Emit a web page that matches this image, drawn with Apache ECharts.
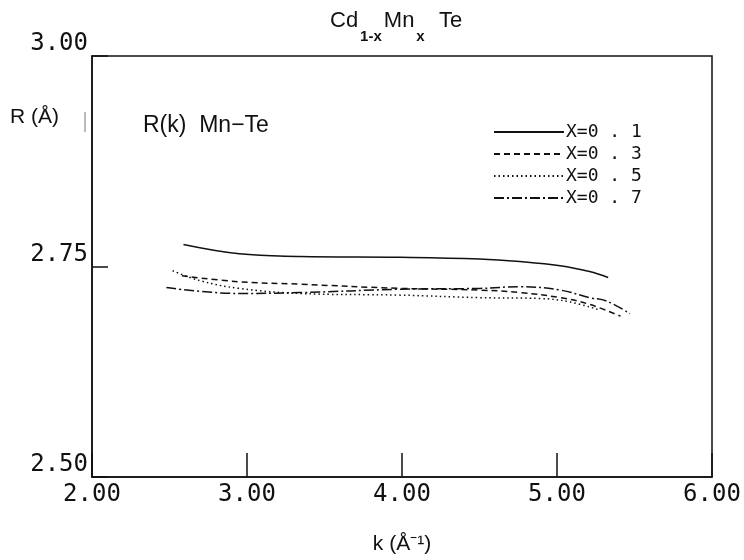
<!DOCTYPE html>
<html>
<head>
<meta charset="utf-8">
<script src="https://cdn.jsdelivr.net/npm/echarts@6/dist/echarts.min.js"></script>
<style>
  html, body { margin: 0; padding: 0; background: #fff; }
  #chart { width: 744px; height: 560px; }
</style>
</head>
<body>
<div id="chart"></div>
<script>
// k (1/A) and R (A)
var k01 = [2.59, 2.95, 3.34, 3.99, 4.50, 4.76, 5.02, 5.21, 5.33];
var r01 = [2.776, 2.765, 2.762, 2.761, 2.759, 2.756, 2.751, 2.744, 2.737];

var k03 = [2.58, 2.94, 3.34, 3.99, 4.50, 4.76, 5.02, 5.21, 5.41];
var r03 = [2.739, 2.732, 2.729, 2.724, 2.722, 2.719, 2.713, 2.705, 2.691];

var k05 = [2.52, 2.70, 2.95, 3.34, 3.99, 4.50, 4.89, 5.08, 5.28];
var r05 = [2.745, 2.733, 2.724, 2.718, 2.716, 2.713, 2.712, 2.708, 2.698];

var k07 = [2.48, 2.94, 3.34, 3.99, 4.50, 4.76, 5.02, 5.21, 5.32, 5.47];
var r07 = [2.725, 2.718, 2.719, 2.723, 2.724, 2.726, 2.722, 2.713, 2.709, 2.694];

var seriesNames = ['X=0.1', 'X=0.3', 'X=0.5', 'X=0.7'];
var xTicks = [2, 3, 4, 5, 6];
var yTicks = [2.5, 2.75, 3];

function pairs(ks, rs) {
    return ks.map(function (k, i) { return [k, rs[i]]; });
}

var monoFont = "'DejaVu Sans Mono', 'Liberation Mono', monospace";
var textFont = "'Liberation Sans', Arial, sans-serif";

var dashTypes = ['solid', [6, 4], [1.5, 3], [10, 3, 2, 3]];
var datasets = [pairs(k01, r01), pairs(k03, r03), pairs(k05, r05), pairs(k07, r07)];

var option = {
    animation: false,
    backgroundColor: '#fff',
    grid: {
        left: 92,
        right: 32,
        top: 56,
        bottom: 80,
        show: true,
        borderColor: '#111',
        borderWidth: 1.5
    },
    legend: {
        orient: 'vertical',
        left: 493,
        top: 123,
        padding: 0,
        itemWidth: 70,
        itemHeight: 10,
        itemGap: 4,
        data: seriesNames,
        itemStyle: { opacity: 0 },
        formatter: function (name) { return name.replace('.', ' . '); },
        textStyle: { fontFamily: monoFont, fontSize: 18, lineHeight: 18, color: '#111', padding: [0, 0, 0, -3] }
    },
    xAxis: {
        type: 'value',
        min: xTicks[0],
        max: xTicks[xTicks.length - 1],
        interval: 1,
        name: 'k (Å⁻¹)',
        nameLocation: 'middle',
        nameGap: 57,
        nameTextStyle: { fontFamily: textFont, fontSize: 21, color: '#111' },
        axisLine: { lineStyle: { color: '#111', width: 1.5 } },
        axisTick: { inside: true, length: 24, lineStyle: { color: '#111', width: 1.5 } },
        splitLine: { show: false },
        axisLabel: {
            margin: 6,
            fontFamily: monoFont,
            fontSize: 24,
            color: '#111',
            formatter: function (v) { return v.toFixed(2); }
        }
    },
    yAxis: {
        type: 'value',
        min: yTicks[0],
        max: yTicks[yTicks.length - 1],
        interval: 0.25,
        axisLine: { lineStyle: { color: '#111', width: 1.5 } },
        axisTick: { inside: true, length: 16, lineStyle: { color: '#111', width: 1.5 } },
        splitLine: { show: false },
        axisLabel: {
            margin: 4,
            verticalAlign: 'bottom',
            fontFamily: monoFont,
            fontSize: 24,
            color: '#111',
            formatter: function (v) { return v.toFixed(2); }
        }
    },
    graphic: [
        {
            type: 'text', left: 330, top: 10,
            style: {
                text: '{a|Cd}{s|1-x}{a|Mn}{s|x}{a|  Te}',
                rich: {
                    a: { fontFamily: textFont, fontSize: 22, fill: '#111', verticalAlign: 'top', lineHeight: 34 },
                    s: { fontFamily: textFont, fontSize: 15, fontWeight: 'bold', fill: '#111', verticalAlign: 'bottom', lineHeight: 34, padding: [0, 2, 0, 2] }
                }
            }
        },
        {
            type: 'text', left: 10, top: 107,
            style: { text: 'R (Å)', fontFamily: textFont, fontSize: 21, fill: '#111' }
        },
        {
            type: 'line', shape: { x1: 85, y1: 112, x2: 85, y2: 132 },
            style: { stroke: '#777', lineWidth: 1 }
        },
        {
            type: 'text', left: 143, top: 114,
            style: { text: 'R(k)  Mn−Te', fontFamily: textFont, fontSize: 23, fill: '#111' }
        }
    ],
    series: seriesNames.map(function (name, i) {
        return {
            name: name,
            type: 'line',
            smooth: 0.4,
            symbol: 'none',
            data: datasets[i],
            lineStyle: { color: '#111', width: 1.5, type: dashTypes[i] },
            itemStyle: { color: '#111' }
        };
    })
};

var myChart = echarts.init(document.getElementById('chart'));
myChart.setOption(option);
</script>
</body>
</html>
